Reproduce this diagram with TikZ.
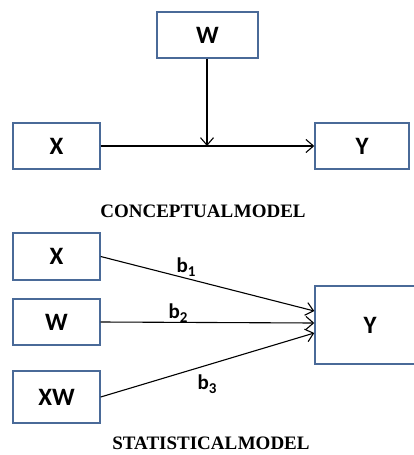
\documentclass[tikz,border=0pt]{standalone}
\usepackage{fontspec}
\setmainfont{Liberation Serif}
\newfontfamily\labelfont{Carlito}
\usetikzlibrary{arrows.meta,calc}

\definecolor{boxblue}{HTML}{4A6A98}

\tikzset{
  varbox/.style={draw=boxblue, line width=1.4pt, fill=white, inner sep=0pt,
    font=\labelfont\bfseries\fontsize{25}{25}\selectfont},
  link/.style={line width=1.1pt, -{Straight Barb[length=7.5pt,width=13pt,line width=1.1pt]}},
  coef/.style={font=\labelfont\bfseries\fontsize{21}{21}\selectfont, inner sep=0pt},
  caption/.style={font=\bfseries\fontsize{19}{19}\selectfont, inner sep=0pt}
}
\newcommand{\coefsub}[1]{b\raisebox{-4pt}{\fontsize{15}{15}\selectfont #1}}

\begin{document}
\begin{tikzpicture}[x=1pt, y=-1pt]
\useasboundingbox (0,0) rectangle (414,455);

% conceptual model
\node[varbox, minimum width=101pt, minimum height=46pt] (w) at (207.5,35) {W};
\node[varbox, minimum width=87pt, minimum height=46pt] (x) at (56.5,146) {X};
\node[varbox, minimum width=94pt, minimum height=46pt] (y) at (362,146) {Y};
\coordinate (m) at (207,146);
\draw[link] (x.east) -- (y.west);
\draw[link] (w.south -| m) -- (m);
\node[caption] (cm) at (203,211) {CONCEPTUAL\hspace{0.5pt}MODEL};

% statistical model
\node[varbox, minimum width=87pt, minimum height=47pt] (x2) at (56.5,256.5) {X};
\node[varbox, minimum width=87pt, minimum height=46pt] (w2) at (56.5,322) {W};
\node[varbox, minimum width=87pt, minimum height=52pt, text height=17pt, text depth=-3pt] (xw) at (56.5,397) {XW};
\node[varbox, minimum width=110pt, minimum height=78pt] (y2) at (370,325) {Y};
\draw[link] (x2.east) -- ($(y2.west)+(0,-14)$);
\draw[link] (w2.east) -- ($(y2.west)+(0,-2)$);
\draw[link] (xw.east) -- ($(y2.west)+(0,8)$);
\node[coef] (b1) at (186,267) {\coefsub{1}};
\node[coef] (b2) at (178,313) {\coefsub{2}};
\node[coef] (b3) at (207,384) {\coefsub{3}};
\node[caption] (sm) at (211,443) {STATISTICAL\hspace{0.5pt}MODEL};
\end{tikzpicture}
\end{document}
